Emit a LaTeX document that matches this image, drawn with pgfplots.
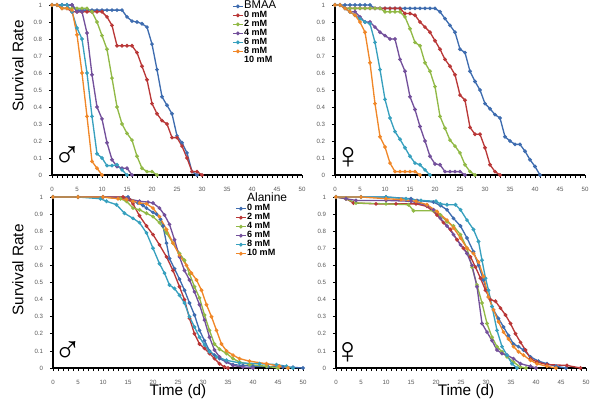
\documentclass[border=0pt]{standalone}
\usepackage{pgfplots}
\pgfplotsset{compat=1.18}
\usepackage{fontspec}
\setmainfont{Liberation Sans}
\definecolor{cB}{RGB}{62,108,175}
\definecolor{cR}{RGB}{185,55,55}
\definecolor{cG}{RGB}{145,185,70}
\definecolor{cP}{RGB}{115,80,155}
\definecolor{cC}{RGB}{55,160,190}
\definecolor{cO}{RGB}{240,135,40}
\tikzset{sym/.style={font=\fontsize{28}{28}\selectfont, inner sep=0pt}}
\pgfplotsset{
  panel/.style={
    scale only axis, width=187.5pt, height=127.5pt,
    xmin=0, xmax=50, ymin=0, ymax=1,
    axis x line=bottom, axis y line=left,
    axis line style={-, line width=1.1pt, black},
    xtick={0,5,...,50}, minor x tick num=4,
    ytick={0,0.1,0.2,0.3,0.4,0.5,0.6,0.7,0.8,0.9,1},
    yticklabels={0,0.1,0.2,0.3,0.4,0.5,0.6,0.7,0.8,0.9,1},
    tick align=outside, major tick length=2.4pt, minor tick length=2.4pt,
    tick style={black, line width=0.6pt},
    every tick label/.append style={font=\fontsize{4.6}{5}\selectfont, text=black!65},
    xticklabel style={yshift=-3pt},
    yticklabel style={xshift=-1.5pt},
    /pgf/number format/assume math mode=true,
    clip=false,
    legend cell align=left,
    legend image code/.code={\draw[mark repeat=2,mark phase=2,##1] plot coordinates {(0pt,0pt) (3.75pt,0pt) (7.5pt,0pt)};},
    legend style={draw=none, fill=none, inner sep=0pt, row sep=0pt,
      font=\bfseries\fontsize{6.8}{7}\selectfont,
      nodes={inner sep=0.375pt, text height=4.6pt, text depth=1.4pt}},
  },
  s/.style={color=#1, line width=1pt, mark=*, mark size=0.85pt, mark options={solid}},
}
\begin{document}
\begin{tikzpicture}
\useasboundingbox (0,0) rectangle (450pt,300pt);
% ---------------- top left: BMAA male
\begin{axis}[panel, at={(39pt,168.75pt)}, anchor=south west,
  legend style={at={(0.72,1.02)}, anchor=north west}]
\addplot[s=cB] coordinates {(0,1)(1,1)(2,1)(3,1)(4,1)(5,0.97)(6,0.97)(7,0.97)(8,0.97)(9,0.97)(10,0.97)(11,0.97)(12,0.97)(13,0.97)(14,0.97)(15,0.93)(16,0.905)(17,0.90)(18,0.89)(19,0.87)(20,0.77)(21,0.62)(22,0.46)(23,0.41)(24,0.36)(25,0.23)(26,0.19)(27,0.13)(28,0.02)(29,0)};
\addplot[s=cR] coordinates {(0,1)(1,1)(2,0.98)(3,0.98)(4,0.96)(5,0.96)(6,0.96)(7,0.96)(8,0.96)(9,0.96)(10,0.96)(11,0.93)(12,0.88)(13,0.76)(14,0.76)(15,0.76)(16,0.76)(17,0.72)(18,0.64)(19,0.56)(20,0.42)(21,0.36)(22,0.32)(23,0.30)(24,0.22)(25,0.22)(26,0.17)(27,0.10)(28,0.02)(29,0.02)(30,0)};
\addplot[s=cG] coordinates {(0,1)(1,1)(2,0.98)(3,0.98)(4,0.98)(5,0.98)(6,0.98)(7,0.98)(8,0.96)(9,0.90)(10,0.82)(11,0.74)(12,0.57)(13,0.40)(14,0.30)(15,0.245)(16,0.205)(17,0.11)(18,0.04)(19,0.02)(20,0.02)(21,0)};
\addplot[s=cP] coordinates {(0,1)(1,1)(2,1)(3,1)(4,1)(5,0.96)(6,0.96)(7,0.835)(8,0.59)(9,0.40)(10,0.33)(11,0.19)(12,0.09)(13,0.05)(14,0.04)(15,0.04)(16,0)};
\addplot[s=cC] coordinates {(0,1)(1,1)(2,1)(3,1)(4,0.96)(5,0.865)(6,0.80)(7,0.60)(8,0.345)(9,0.125)(10,0.10)(11,0.055)(12,0.055)(13,0.06)(14,0.03)(15,0)};
\addplot[s=cO] coordinates {(0,1)(1,1)(2,0.98)(3,0.98)(4,0.97)(5,0.825)(6,0.60)(7,0.345)(8,0.08)(9,0.04)(10,0)};
\addlegendimage{empty legend}
\legend{{\mdseries\fontsize{8.5}{8}\selectfont BMAA},0 mM,2 mM,4 mM,6 mM,8 mM,10 mM}
\node[sym] at (axis cs:3,0.105) {\char"2642};
\end{axis}
% ---------------- top right: BMAA female
\begin{axis}[panel, at={(251.25pt,168.75pt)}, anchor=south west]
\addplot[s=cB] coordinates {(0,1)(1,1)(2,1)(3,1)(4,1)(5,1)(6,1)(7,1)(8,0.98)(9,0.98)(10,0.98)(11,0.98)(12,0.98)(13,0.98)(14,0.98)(15,0.98)(16,0.98)(17,0.98)(18,0.98)(19,0.98)(20,0.98)(21,0.96)(22,0.92)(23,0.88)(24,0.84)(25,0.74)(26,0.72)(27,0.61)(28,0.55)(29,0.50)(30,0.42)(31,0.39)(32,0.355)(33,0.335)(34,0.225)(35,0.20)(36,0.18)(37,0.18)(38,0.14)(39,0.09)(40,0.05)(41,0)};
\addplot[s=cR] coordinates {(0,1)(1,1)(2,0.98)(3,0.98)(4,0.98)(5,0.98)(6,0.98)(7,0.98)(8,0.98)(9,0.98)(10,0.98)(11,0.98)(12,0.98)(13,0.98)(14,0.95)(15,0.95)(16,0.94)(17,0.90)(18,0.87)(19,0.84)(20,0.79)(21,0.74)(22,0.68)(23,0.64)(24,0.59)(25,0.47)(26,0.44)(27,0.28)(28,0.24)(29,0.24)(30,0.16)(31,0.06)(32,0.02)(33,0)};
\addplot[s=cG] coordinates {(0,1)(1,1)(2,0.98)(3,0.98)(4,0.98)(5,0.98)(6,0.98)(7,0.98)(8,0.98)(9,0.98)(10,0.96)(11,0.96)(12,0.96)(13,0.96)(14,0.93)(15,0.86)(16,0.78)(17,0.76)(18,0.66)(19,0.61)(20,0.52)(21,0.345)(22,0.275)(23,0.205)(24,0.17)(25,0.13)(26,0.06)(27,0.02)(28,0)};
\addplot[s=cP] coordinates {(0,1)(1,1)(2,0.98)(3,0.96)(4,0.96)(5,0.93)(6,0.90)(7,0.90)(8,0.87)(9,0.84)(10,0.82)(11,0.80)(12,0.80)(13,0.68)(14,0.61)(15,0.46)(16,0.385)(17,0.285)(18,0.20)(19,0.11)(20,0.065)(21,0.06)(22,0.02)(23,0.02)(24,0.02)(25,0.02)(26,0)};
\addplot[s=cC] coordinates {(0,1)(1,1)(2,0.98)(3,0.96)(4,0.94)(5,0.92)(6,0.90)(7,0.89)(8,0.78)(9,0.62)(10,0.445)(11,0.335)(12,0.255)(13,0.21)(14,0.16)(15,0.11)(16,0.07)(17,0.06)(18,0.03)(19,0)};
\addplot[s=cO] coordinates {(0,1)(1,1)(2,0.98)(3,0.96)(4,0.94)(5,0.90)(6,0.84)(7,0.66)(8,0.42)(9,0.225)(10,0.165)(11,0.07)(12,0.02)(13,0.02)(14,0.02)(15,0.02)(16,0.02)(17,0)};
\node[sym] at (axis cs:2.6,0.10) {\char"2640};
\end{axis}
% ---------------- bottom left: Alanine male
\begin{axis}[panel, height=128.25pt, at={(39.75pt,24pt)}, anchor=south west,
  legend style={at={(0.728,1.012)}, anchor=north west}]
\addlegendimage{empty legend}
\addplot[s=cB] coordinates {(0,1)(5,1)(10,1)(15,1)(16,0.975)(17,0.965)(18,0.95)(18.7,0.935)(20,0.91)(20.7,0.90)(21.5,0.87)(22,0.83)(22.7,0.73)(23.3,0.64)(24.3,0.58)(25.3,0.52)(26.3,0.455)(27.3,0.38)(28.3,0.31)(29.3,0.22)(30.3,0.16)(31.3,0.10)(32.3,0.075)(33.3,0.055)(34.7,0.035)(36,0.02)(38,0.015)(40,0.01)(43,0.008)(46,0.005)(48,0.004)(50,0)};
\addplot[s=cR] coordinates {(0,1)(5,1)(10,1)(14,1)(15.3,0.985)(16,0.96)(17.3,0.89)(18.7,0.83)(20,0.78)(21.3,0.72)(22.7,0.65)(24,0.57)(25.3,0.475)(26.3,0.40)(27.3,0.29)(28.3,0.20)(29.3,0.14)(30.3,0.115)(31.3,0.085)(32.3,0.055)(33.3,0.025)(34.3,0.006)(35,0)};
\addplot[s=cG] coordinates {(0,1)(5,1)(10,1)(13.5,0.99)(14.7,0.975)(16,0.935)(17.3,0.925)(18.7,0.905)(20,0.885)(21.3,0.85)(22.7,0.79)(24,0.73)(25.3,0.67)(26.3,0.63)(27.3,0.55)(28.3,0.475)(29.3,0.41)(30.3,0.31)(31.3,0.22)(32.3,0.14)(33.3,0.11)(34.7,0.085)(36,0.055)(37.3,0.035)(39.3,0.02)(42.7,0.01)(45,0)};
\addplot[s=cP] coordinates {(0,1)(5,1)(10,1)(15,0.99)(17.3,0.975)(19,0.97)(20,0.965)(21.3,0.935)(22.3,0.895)(23.3,0.84)(24.3,0.75)(25.3,0.65)(26.3,0.57)(27.3,0.515)(28.3,0.445)(29.3,0.37)(30.3,0.28)(31.3,0.18)(32.3,0.105)(33.3,0.065)(34.7,0.035)(36,0.015)(38,0.005)(40,0)};
\addplot[s=cC] coordinates {(0,1)(5,1)(9.5,0.99)(10.7,0.975)(12.7,0.955)(14.3,0.905)(16,0.875)(17.3,0.85)(18.7,0.79)(20,0.70)(21.3,0.61)(22.3,0.555)(23.3,0.485)(24.3,0.465)(25.3,0.425)(26.3,0.38)(27.3,0.30)(28.3,0.24)(29.3,0.18)(30.3,0.135)(31.3,0.095)(32.7,0.065)(34.7,0.045)(37.3,0.03)(41.3,0.025)(44.7,0.02)(46.7,0.01)(48,0)};
\addplot[s=cO] coordinates {(0,1)(5,1)(10,1)(13,0.99)(14.7,0.985)(16,0.975)(17.3,0.965)(18.7,0.96)(20,0.935)(21.3,0.885)(22.7,0.81)(24,0.73)(25.3,0.66)(26.7,0.60)(27.7,0.555)(28.7,0.515)(29.7,0.455)(30.7,0.37)(31.7,0.30)(32.7,0.22)(33.7,0.14)(34.7,0.10)(36,0.075)(37.3,0.055)(39.3,0.04)(42.7,0.025)(45.3,0.01)(47,0)};
\legend{{\mdseries\fontsize{9}{8}\selectfont Alanine},0 mM,2 mM,4 mM,6 mM,8 mM,10 mM}
\node[sym] at (axis cs:2.9,0.094) {\char"2642};
\end{axis}
% ---------------- bottom right: Alanine female
\begin{axis}[panel, height=128.25pt, at={(252pt,24pt)}, anchor=south west]
\addplot[s=cB] coordinates {(0,1)(5,1)(10,1)(15,0.99)(16.2,0.98)(19.5,0.97)(20.9,0.95)(22.2,0.925)(23.5,0.875)(24.9,0.83)(26.2,0.76)(27.5,0.68)(28.5,0.60)(29.5,0.515)(30.5,0.415)(31.5,0.34)(32.5,0.29)(33.5,0.24)(34.5,0.19)(35.5,0.14)(36.5,0.125)(37.5,0.105)(38.9,0.065)(40.5,0.04)(42.2,0.025)(44,0.01)(46,0)};
\addplot[s=cR] coordinates {(0,1)(2,0.99)(3.5,0.965)(8,0.96)(12,0.96)(16,0.96)(18.2,0.945)(20.2,0.895)(21.5,0.85)(22.9,0.81)(24.2,0.75)(25.5,0.70)(26.9,0.65)(27.9,0.59)(28.9,0.525)(29.9,0.455)(30.9,0.40)(31.9,0.39)(32.9,0.35)(33.9,0.31)(34.9,0.26)(35.9,0.20)(36.9,0.15)(37.9,0.105)(38.9,0.055)(40.2,0.035)(42.2,0.02)(46.2,0.015)(48.9,0)};
\addplot[s=cG] coordinates {(0,1)(2,0.99)(4,0.965)(10,0.96)(14.5,0.955)(15.5,0.92)(19.5,0.92)(20.9,0.895)(22.2,0.855)(23.5,0.83)(24.9,0.78)(26.2,0.70)(27.2,0.59)(28.2,0.485)(29.2,0.38)(30.2,0.26)(31.2,0.18)(32.2,0.125)(33.2,0.095)(34.2,0.065)(35.5,0.035)(36.9,0.005)(38,0)};
\addplot[s=cP] coordinates {(0,1)(2,0.99)(4,0.98)(10,0.98)(15,0.975)(18.2,0.95)(19.5,0.925)(20.9,0.875)(22.2,0.83)(23.5,0.78)(24.9,0.72)(26.2,0.67)(27.2,0.60)(28.2,0.475)(29.2,0.26)(30.2,0.21)(31.2,0.16)(32.2,0.105)(33.2,0.085)(34.2,0.075)(35.5,0.055)(36.9,0.025)(38.9,0.01)(40,0)};
\addplot[s=cC] coordinates {(0,1)(5,1)(10,1)(14,0.99)(17,0.98)(20,0.975)(20.9,0.96)(22.2,0.955)(23.9,0.955)(24.9,0.925)(26.2,0.865)(27.5,0.81)(28.5,0.74)(29.2,0.63)(29.9,0.525)(30.5,0.455)(31.2,0.36)(32.2,0.22)(33.2,0.125)(34.2,0.075)(35.2,0.025)(36.2,0)};
\addplot[s=cO] coordinates {(0,1)(5,1)(10,0.99)(13,0.985)(16,0.975)(18.2,0.955)(20.2,0.915)(22.2,0.865)(23.5,0.82)(24.9,0.76)(26.2,0.70)(27.5,0.67)(28.5,0.62)(29.5,0.535)(30.5,0.415)(31.5,0.34)(32.5,0.27)(33.5,0.21)(34.5,0.17)(35.5,0.125)(36.5,0.095)(37.5,0.075)(38.9,0.045)(40.2,0.025)(42.2,0.01)(44,0)};
\node[sym] at (axis cs:2.3,0.088) {\char"2640};
\end{axis}
% axis titles
\node[rotate=90, inner sep=0pt, font=\fontsize{11.5}{12}\selectfont] at (13.5pt,250.5pt) {Survival Rate};
\node[rotate=90, inner sep=0pt, font=\fontsize{11.5}{12}\selectfont] at (13.5pt,97.5pt) {Survival Rate};
\node[inner sep=0pt, font=\fontsize{11.5}{12}\selectfont] at (133.5pt,6.0pt) {Time (d)};
\node[inner sep=0pt, font=\fontsize{11.5}{12}\selectfont] at (349.5pt,6.0pt) {Time (d)};
\end{tikzpicture}
\end{document}
